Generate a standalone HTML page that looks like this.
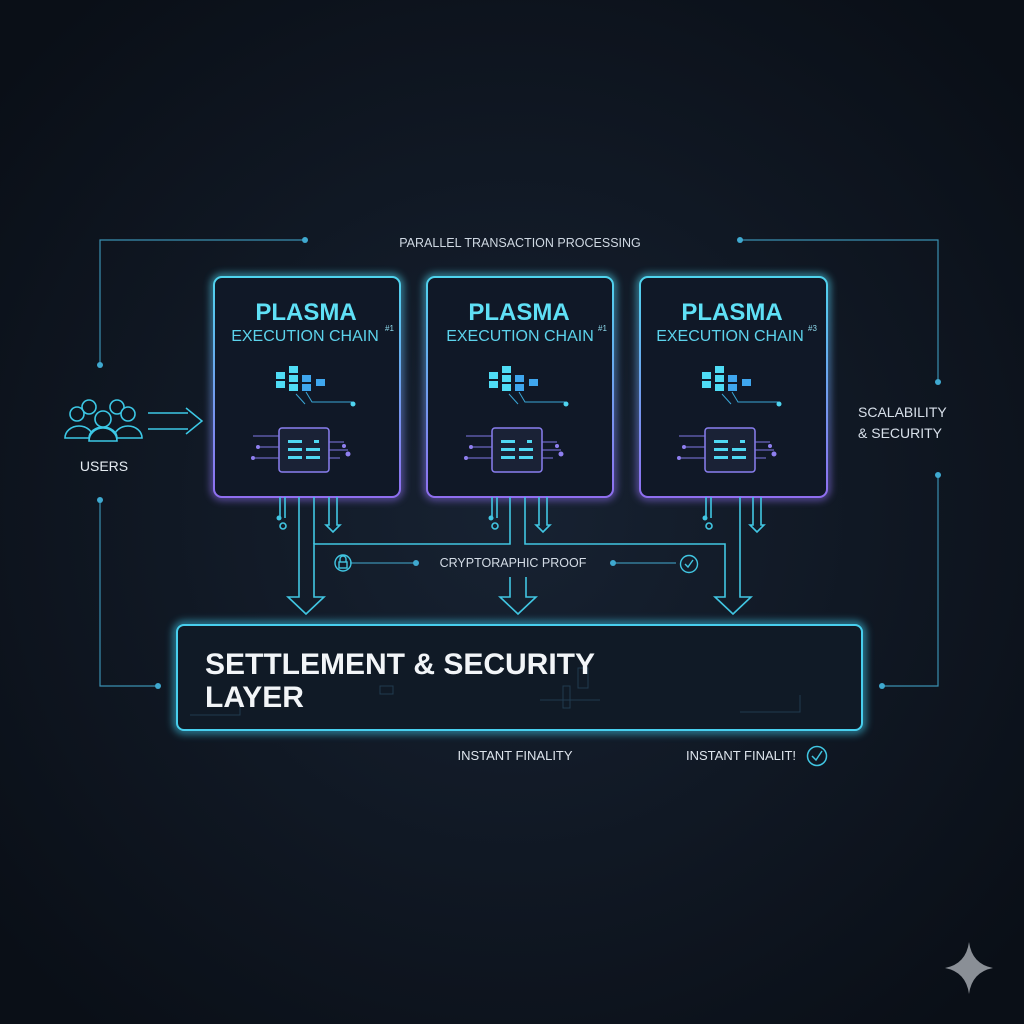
<!DOCTYPE html>
<html><head><meta charset="utf-8"><style>
html,body{margin:0;padding:0;background:#0b111a;}
svg{display:block}
text{font-family:"Liberation Sans",sans-serif}
</style></head><body>
<svg width="1024" height="1024" viewBox="0 0 1024 1024" xmlns="http://www.w3.org/2000/svg">
<defs>
<radialGradient id="bg" cx="50%" cy="50%" r="65%">
<stop offset="0" stop-color="#172232"/><stop offset="1" stop-color="#0a0f17"/></radialGradient>
<linearGradient id="pg" x1="0" y1="0" x2="0" y2="1">
<stop offset="0" stop-color="#4fd4ee"/><stop offset="1" stop-color="#8f6ef0"/></linearGradient>
<filter id="gl" x="-20%" y="-20%" width="140%" height="140%"><feGaussianBlur stdDeviation="4"/></filter>
</defs>
<rect width="1024" height="1024" fill="url(#bg)"/>

<g stroke="#3a8fb0" stroke-width="1.2" fill="none">
<polyline points="305,240 100,240 100,365"/>
<polyline points="740,240 938,240 938,382"/>
<polyline points="100,500 100,686 158,686"/>
<polyline points="938,475 938,686 882,686"/>
<line x1="350" y1="563" x2="416" y2="563"/>
<line x1="613" y1="563" x2="676" y2="563"/>
</g>
<g fill="#3fa9d0">
<circle cx="305" cy="240" r="3"/><circle cx="740" cy="240" r="3"/>
<circle cx="100" cy="365" r="3"/><circle cx="938" cy="382" r="3"/>
<circle cx="100" cy="500" r="3"/><circle cx="938" cy="475" r="3"/>
<circle cx="158" cy="686" r="3"/><circle cx="882" cy="686" r="3"/>
<circle cx="416" cy="563" r="3"/><circle cx="613" cy="563" r="3"/>
</g>
<text x="520" y="247" font-size="12.5" fill="#cfd8e2" text-anchor="middle">PARALLEL TRANSACTION PROCESSING</text>
<text x="858" y="417" font-size="14" fill="#d8e0ea">SCALABILITY</text>
<text x="858" y="438" font-size="14" fill="#d8e0ea">&amp; SECURITY</text>

<g stroke="#3cc8e6" stroke-width="1.6" fill="#0e1620">
<circle cx="89" cy="407" r="7"/><circle cx="117" cy="407" r="7"/>
<path d="M65,438 a14,12 0 0 1 28,0 z"/><path d="M114,438 a14,12 0 0 1 28,0 z"/>
<circle cx="77" cy="414" r="7"/><circle cx="128" cy="414" r="7"/>
<path d="M89,438 a14,11 0 0 1 28,0"/>
<circle cx="103" cy="419" r="8"/>
<path d="M89,441 a14,13 0 0 1 28,0 z"/>
</g>
<text x="104" y="471" font-size="14" fill="#e6ecf2" text-anchor="middle">USERS</text>
<g stroke="#3cc8e6" stroke-width="1.5" fill="none">
<line x1="148" y1="413" x2="188" y2="413"/><line x1="148" y1="429" x2="188" y2="429"/>
<polyline points="186,408 202,421 186,434"/>
</g>

<g>
<rect x="214" y="277" width="186" height="220" rx="8" fill="none" stroke="url(#pg)" stroke-width="6" filter="url(#gl)" opacity="0.7"/>
<rect x="214" y="277" width="186" height="220" rx="8" fill="#101827" stroke="url(#pg)" stroke-width="2"/>
<rect x="427" y="277" width="186" height="220" rx="8" fill="none" stroke="url(#pg)" stroke-width="6" filter="url(#gl)" opacity="0.7"/>
<rect x="427" y="277" width="186" height="220" rx="8" fill="#101827" stroke="url(#pg)" stroke-width="2"/>
<rect x="640" y="277" width="187" height="220" rx="8" fill="none" stroke="url(#pg)" stroke-width="6" filter="url(#gl)" opacity="0.7"/>
<rect x="640" y="277" width="187" height="220" rx="8" fill="#101827" stroke="url(#pg)" stroke-width="2"/>
</g>
<g font-weight="bold" font-size="24" fill="#5fe0f6" text-anchor="middle">
<text x="306" y="320">PLASMA</text><text x="519" y="320">PLASMA</text><text x="732" y="320">PLASMA</text>
</g>
<g font-size="16" fill="#5cd3ec" text-anchor="middle">
<text x="305" y="341">EXECUTION CHAIN</text><text x="520" y="341">EXECUTION CHAIN</text><text x="730" y="341">EXECUTION CHAIN</text>
</g>
<g font-size="8" fill="#8fdcef">
<text x="385" y="331">#1</text><text x="598" y="331">#1</text><text x="808" y="331">#3</text>
</g>

<g id="ic">
<g fill="#4fdcf5">
<rect x="289" y="366" width="9" height="7"/><rect x="276" y="372" width="9" height="7"/><rect x="276" y="381" width="9" height="7"/>
<rect x="289" y="375" width="9" height="7"/><rect x="289" y="384" width="9" height="7"/>
</g>
<g fill="#3fa6ee"><rect x="302" y="375" width="9" height="7"/><rect x="302" y="384" width="9" height="7"/><rect x="316" y="379" width="9" height="7"/></g>
<g stroke="#3aa6d6" stroke-width="1" fill="none"><polyline points="306,392 312,402 352,402"/><line x1="296" y1="394" x2="305" y2="404"/></g>
<circle cx="353" cy="404" r="2.5" fill="#4fd4f0"/>
<rect x="279" y="428" width="50" height="44" rx="3" fill="#1a2236" stroke="#8a7ff0" stroke-width="1.5"/>
<g fill="#4fd8f2"><rect x="288" y="440" width="14" height="3"/><rect x="288" y="448" width="14" height="3"/><rect x="306" y="448" width="14" height="3"/><rect x="288" y="456" width="14" height="3"/><rect x="306" y="456" width="14" height="3"/><rect x="314" y="440" width="5" height="3"/></g>
<g stroke="#7f79e6" stroke-width="1" fill="none"><line x1="253" y1="436" x2="279" y2="436"/><line x1="260" y1="447" x2="279" y2="447"/><line x1="253" y1="458" x2="279" y2="458"/><line x1="329" y1="442" x2="344" y2="442"/><line x1="329" y1="450" x2="348" y2="450"/><line x1="329" y1="458" x2="340" y2="458"/></g>
<g fill="#8f7ff0"><circle cx="258" cy="447" r="2"/><circle cx="253" cy="458" r="2"/><circle cx="348" cy="454" r="2.5"/><circle cx="344" cy="446" r="2"/></g>
</g>
<use href="#ic" x="213"/>
<use href="#ic" x="426"/>

<g stroke="#41c6e2" stroke-width="1.6" fill="none">
<polyline points="299,497 299,597 288,597 306,614 324,597 314,597 314,544 510,544 510,497"/>
<polyline points="314,497 314,544"/>
<polyline points="525,497 525,544 725,544 725,597 715,597 733,614 751,597 740,597 740,497"/>
<polyline points="510,577 510,597 500,597 518,614 536,597 526,597 526,577"/>
<polyline points="329,497 329,525 326,525 333,532 340,525 337,525 337,497"/>
<polyline points="539,497 539,525 536,525 543,532 550,525 547,525 547,497"/>
<polyline points="753,497 753,525 750,525 757,532 764,525 761,525 761,497"/>
<line x1="280" y1="497" x2="280" y2="518"/><line x1="285" y1="497" x2="285" y2="518"/>
<line x1="492" y1="497" x2="492" y2="518"/><line x1="497" y1="497" x2="497" y2="518"/>
<line x1="706" y1="497" x2="706" y2="518"/><line x1="711" y1="497" x2="711" y2="518"/>
<circle cx="283" cy="526" r="3"/><circle cx="495" cy="526" r="3"/><circle cx="709" cy="526" r="3"/>
</g>
<g fill="#41c6e2"><circle cx="279" cy="518" r="2.5"/><circle cx="491" cy="518" r="2.5"/><circle cx="705" cy="518" r="2.5"/></g>

<g stroke="#41c6e2" stroke-width="1.4" fill="none">
<circle cx="343" cy="563" r="8"/><rect x="339" y="562" width="8" height="6"/><path d="M340,562 v-3 a3,3 0 0 1 6,0 v3"/>
<circle cx="689" cy="564" r="8.5"/><polyline points="685,564 688,567 693,560"/>
</g>
<text x="513" y="567" font-size="12.5" fill="#d4dce6" text-anchor="middle">CRYPTORAPHIC PROOF</text>

<rect x="177" y="625" width="685" height="105" rx="7" fill="none" stroke="#3fc8ea" stroke-width="8" filter="url(#gl)" opacity="0.6"/>
<rect x="177" y="625" width="685" height="105" rx="7" fill="#101a26" stroke="#48cfee" stroke-width="2"/>
<g stroke="#24435a" stroke-width="1" fill="none" opacity="0.8">
<rect x="563" y="686" width="7" height="22"/><rect x="380" y="686" width="13" height="8"/><rect x="578" y="668" width="10" height="20"/>
<polyline points="190,715 240,715 240,700"/><polyline points="540,700 600,700"/><polyline points="740,712 800,712 800,695"/>
</g>
<text x="205" y="674" font-size="30" font-weight="bold" fill="#f2f5f8">SETTLEMENT &amp; SECURITY</text>
<text x="205" y="707" font-size="30" font-weight="bold" fill="#f2f5f8">LAYER</text>

<text x="515" y="760" font-size="13" fill="#dde4ec" text-anchor="middle">INSTANT FINALITY</text>
<text x="686" y="760" font-size="13" fill="#dde4ec">INSTANT FINALIT!</text>
<g stroke="#41c6e2" stroke-width="1.5" fill="none"><circle cx="817" cy="756" r="9.5"/><polyline points="812,756 816,760 822,751"/></g>

<path d="M969,942 Q972,964 993,968 Q972,972 969,994 Q966,972 945,968 Q966,964 969,942 Z" fill="#8a8f96"/>
</svg>
</body></html>
